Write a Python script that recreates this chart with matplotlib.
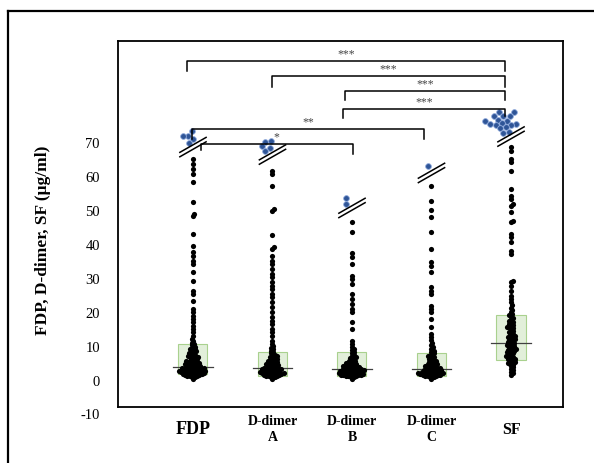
import matplotlib.pyplot as plt
import matplotlib.transforms as mtransforms
from matplotlib.lines import Line2D
import numpy as np

plt.rcParams['font.family'] = ['Liberation Serif', 'DejaVu Serif']

# ---- data (ug/ml) ----
groups = ['FDP', 'D-dimer\nA', 'D-dimer\nB', 'D-dimer\nC', 'SF']
label_sizes = [13, 10, 10, 10, 11.5]

fdp = [65.0, 63.5, 62.0, 60.6, 58.2, 52.4, 48.8, 48.2, 42.9, 39.4, 37.6, 36.5,
       35.0, 34.1, 31.8, 29.1, 26.2, 25.3, 23.2, 20.9, 20.0, 18.8, 17.9, 17.1,
       15.9, 15.0, 14.1, 12.9, 12.2, 11.6, 11.0, 10.6, 10.2, 9.8, 9.5, 9.1,
       8.7, 8.4, 8.1, 7.8, 7.5, 7.2, 6.9, 6.7, 6.4, 6.2, 6.0, 5.8, 5.6, 5.4,
       5.3, 5.1, 4.9, 4.8, 4.6, 4.5, 4.3, 4.2, 4.0, 3.9, 3.8, 3.7, 3.6, 3.5,
       3.4, 3.3, 3.2, 3.1, 3.0, 2.9, 2.8, 2.7, 2.6, 2.5, 2.4, 2.3, 2.2, 2.1,
       2.0, 1.9, 1.8, 1.7, 1.6, 1.5, 1.4, 1.3, 1.2, 1.1, 1.0, 0.8, 0.3,
       3.6, 3.2, 2.9, 2.6, 2.3, 2.0, 1.7, 4.4, 5.0, 2.5, 5.5, 6.6, 7.0, 8.0, 9.0]

ddimer_a = [61.6, 60.6, 57.2, 50.3, 49.8, 42.5, 39.0, 38.5, 36.6, 35.1, 34.1,
            32.6, 31.2, 30.3, 28.8, 27.7, 26.8, 25.3, 24.4, 22.9, 21.4, 20.0,
            18.5, 17.4, 16.5, 15.0, 14.1, 13.0, 11.6, 10.6, 10.0, 9.5, 9.0,
            8.6, 8.2, 7.8, 7.4, 7.0, 6.7, 6.4, 6.1, 5.8, 5.5, 5.3, 5.0, 4.8,
            4.6, 4.4, 4.2, 4.0, 3.8, 3.7, 3.5, 3.4, 3.2, 3.1, 3.0, 2.8, 2.7,
            2.6, 2.5, 2.3, 2.2, 2.1, 2.0, 1.9, 1.8, 1.7, 1.6, 1.5, 1.4, 1.3,
            1.2, 1.1, 1.0, 0.8, 0.4, 3.6, 3.2, 2.9, 2.4, 2.0, 4.3, 2.7, 1.9,
            3.3, 5.6, 6.6, 5.2, 6.0, 7.2, 4.7]

ddimer_b = [46.5, 43.5, 37.4, 36.2, 34.1, 30.6, 29.7, 28.2, 25.3, 23.8, 22.4,
            20.9, 20.0, 17.1, 15.0, 11.5, 10.6, 9.8, 9.2, 8.7, 8.3, 7.9, 7.5,
            7.1, 6.7, 6.3, 6.0, 5.7, 5.4, 5.1, 4.9, 4.7, 4.5, 4.3, 4.1, 3.9,
            3.7, 3.5, 3.4, 3.2, 3.0, 2.9, 2.8, 2.6, 2.5, 2.4, 2.2, 2.1, 2.0,
            1.9, 1.8, 1.7, 1.6, 1.5, 1.4, 1.3, 1.2, 1.1, 1.0, 0.8, 0.4, 3.6,
            3.3, 3.0, 2.7, 2.4, 2.1, 1.8, 1.5, 2.9, 2.2, 1.6, 4.0, 3.1, 2.6,
            4.6, 5.5, 6.5, 3.8]

ddimer_c = [57.1, 52.7, 50.0, 47.9, 43.5, 38.5, 34.7, 33.5, 31.8, 27.4, 26.2,
            25.3, 21.8, 20.9, 20.0, 17.9, 15.6, 13.5, 12.6, 11.8, 11.0, 10.3,
            9.7, 9.1, 8.6, 8.2, 7.8, 7.4, 7.0, 6.7, 6.4, 6.1, 5.8, 5.5, 5.3,
            5.0, 4.8, 4.6, 4.4, 4.2, 4.0, 3.8, 3.6, 3.5, 3.3, 3.1, 3.0, 2.8,
            2.7, 2.5, 2.4, 2.3, 2.1, 2.0, 1.9, 1.8, 1.7, 1.6, 1.5, 1.4, 1.3,
            1.2, 1.1, 1.0, 0.8, 0.4, 3.4, 3.0, 2.6, 2.2, 1.8, 2.9, 2.0, 1.5,
            3.7, 2.4, 4.5, 5.6, 6.9]

sf = [68.4, 67.4, 65.0, 64.0, 61.6, 56.2, 54.2, 53.2, 51.8, 51.3, 49.4, 46.9,
      46.4, 42.9, 42.0, 40.6, 38.0, 37.1, 29.2, 28.8, 27.7, 26.3, 24.8, 23.8,
      22.9, 22.0, 21.3, 20.6, 20.0, 19.4, 18.8, 18.3, 17.8, 17.3, 16.8, 16.4,
      16.0, 15.6, 15.2, 14.8, 14.4, 14.0, 13.6, 13.2, 12.9, 12.5, 12.1, 11.8,
      11.4, 11.1, 10.8, 10.5, 10.2, 9.9, 9.6, 9.3, 9.0, 8.7, 8.4, 8.1, 7.8,
      7.5, 7.2, 6.9, 6.6, 6.3, 6.0, 5.7, 5.4, 5.1, 4.8, 4.5, 4.1, 3.7, 3.3,
      2.9, 2.5, 2.0, 1.5, 17.0, 15.4, 14.2, 13.0, 11.6, 10.0, 9.1, 8.0, 7.0,
      6.1, 5.2, 12.3, 16.1, 19.0, 10.6, 8.6]

values = [fdp, ddimer_a, ddimer_b, ddimer_c, sf]

# off-scale points, drawn compressed above the axis break
fdp_high = [73.1, 71.9, 71.9, 70.9, 69.7]
ddimer_a_high = [70.4, 70.1, 68.7, 68.1, 67.3]
ddimer_b_high = [53.5, 51.8]
ddimer_c_high = [62.9]
sf_high = [78.9, 78.7, 77.7, 77.7, 77.6, 76.6, 76.3, 76.2, 75.6, 75.3, 75.3,
           75.0, 75.0, 74.3, 74.0, 72.9, 72.6]
high_values = [fdp_high, ddimer_a_high, ddimer_b_high, ddimer_c_high, sf_high]

# box: 25th percentile, median, 75th percentile
q1 = [1.8, 1.2, 1.2, 1.2, 5.9]
median = [3.8, 3.5, 3.2, 3.2, 10.9]
q3 = [10.6, 8.2, 8.2, 7.9, 19.1]

# ---- layout ----
break_y = [68.5, 66.3, 50.6, 60.9, 71.6]
high_shift = [-0.05, -0.09, -0.07, -0.04, -0.10]

# (x left, x right, bar y, left leg end, right leg end, label)
brackets = [
    (0.925, 4.925, 93.8, 90.9, 90.9, '***'),
    (1.994, 4.925, 89.4, 86.2, 86.2, '***'),
    (2.910, 4.925, 85.0, 82.4, 82.4, '***'),
    (2.887, 4.925, 79.7, 77.1, 77.6, '***'),
    (0.987, 3.906, 73.8, 70.9, 70.9, '**'),
    (1.100, 3.010, 69.4, 67.6, 66.5, '*'),
]


def swarm(vals, d):
    """simple beeswarm: vals in pixels, returns x offsets in pixels"""
    vals = np.asarray(vals, float)
    xs = np.zeros(len(vals))
    placed = []
    for i in np.argsort(vals, kind='stable'):
        y = vals[i]
        near = [(px, py) for px, py in placed if abs(py - y) < d]
        cands = [0.0]
        for px, py in near:
            dx = np.sqrt(d * d - (py - y) ** 2)
            cands += [px + dx, px - dx]
        cands.sort(key=abs)
        for c in cands:
            if all((c - px) ** 2 + (y - py) ** 2 >= d * d - 1e-6 for px, py in near):
                xs[i] = c
                break
        placed.append((xs[i], y))
    return xs


fig = plt.figure(figsize=(5.94, 4.64), dpi=100)
ax = fig.add_axes([118 / 594, 56 / 464, 445 / 594, 366 / 464])
ax.set_xlim(0.057, 5.654)
ax.set_ylim(-7.94, 99.7)

# pixels per data unit
p0 = ax.transData.transform((0, 0))
p1 = ax.transData.transform((1, 1))
sx, sy = p1[0] - p0[0], p1[1] - p0[1]

pos = np.arange(1, len(groups) + 1)

for i, x in enumerate(pos):
    # IQR box + median
    ax.bar(x, q3[i] - q1[i], bottom=q1[i], width=0.365, color='#e2efda',
           edgecolor='#a9d18e', linewidth=0.8, zorder=1)
    ax.plot([x - 0.25, x + 0.25], [median[i]] * 2, color='#404040', lw=0.9, zorder=2)

    # points
    v = np.array(values[i])
    offs = swarm(v * sy, 2.5) / sx
    ax.scatter(x + offs, v, s=14, color='black', linewidths=0, zorder=3)

    # axis break marks
    hx, hy = 0.165, 2.2
    for dy in (0.65, -0.65):
        ax.plot([x - hx, x + hx], [break_y[i] - hy + dy, break_y[i] + hy + dy],
                color='black', lw=1.1, zorder=4)

    # off-scale points
    h = np.array(high_values[i])
    hoffs = swarm(h * sy, 5.6) / sx
    ax.scatter(x + high_shift[i] + hoffs, h, s=17, color='#2f5597',
               edgecolors='#8faadc', linewidths=0.6, zorder=3)

    # category label
    ax.text(x, -14.3, groups[i], ha='center', va='center', fontsize=label_sizes[i],
            fontweight='bold', linespacing=1.3, clip_on=False)

# significance brackets
for x1, x2, y, l1, l2, lab in brackets:
    ax.plot([x1, x1, x2, x2], [l1, y, y, l2], color='black', lw=1.1, zorder=4)
    ax.text((x1 + x2) / 2, y + 0.5, lab, ha='center', va='bottom', fontsize=8.5,
            color='#444444')

ax.set_xticks([])
ax.set_yticks(range(0, 80, 10))
ax.tick_params(axis='y', length=0, pad=13, labelsize=10.5)
trans = mtransforms.blended_transform_factory(ax.transAxes, ax.transData)
ax.text(-18 / 445, -10, '-10', transform=trans, ha='right', va='center',
        fontsize=10.5, clip_on=False)
for s in ax.spines.values():
    s.set_linewidth(1.3)

fig.text(43 / 594, 1 - 240 / 464, 'FDP, D-dimer, SF (\u03bcg/ml)', rotation=90,
         ha='center', va='center', fontsize=12.5, fontweight='bold')

# outer frame (left and top edges)
fig.add_artist(Line2D([8 / 594, 1], [1 - 12 / 464] * 2, color='black', lw=1.6))
fig.add_artist(Line2D([8 / 594] * 2, [0, 1 - 12 / 464], color='black', lw=1.6))

fig.savefig('out.png', dpi=100)
